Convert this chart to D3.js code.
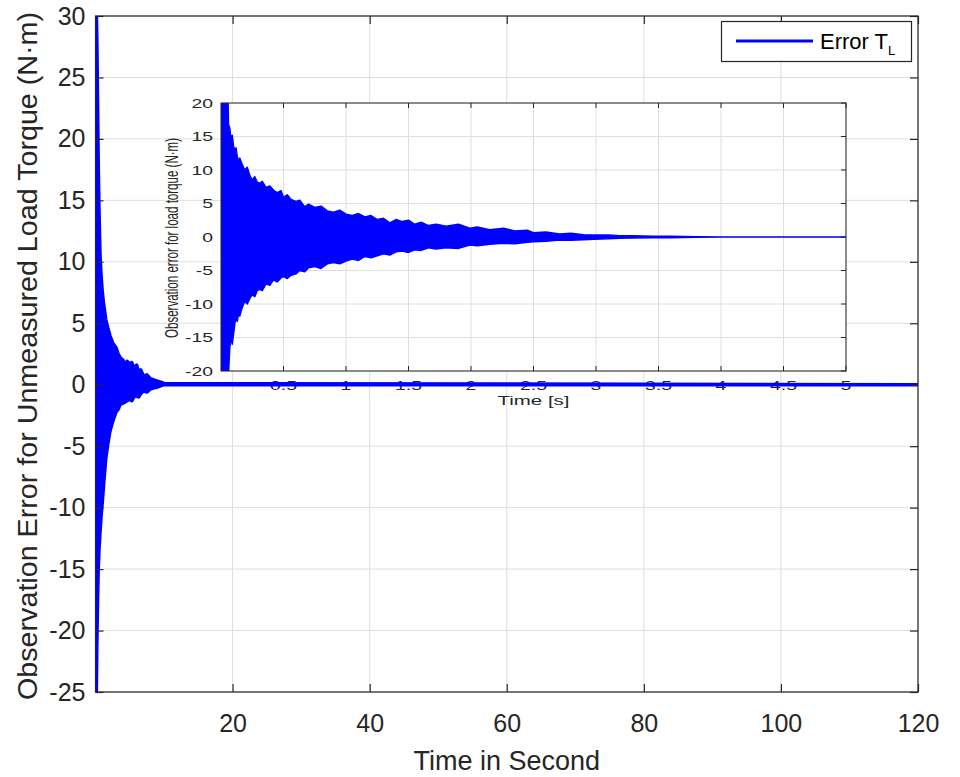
<!DOCTYPE html>
<html>
<head>
<meta charset="utf-8">
<script src="https://cdn.jsdelivr.net/npm/d3@7"></script>
<style>
  html, body { margin: 0; padding: 0; background: #fff; }
  svg { display: block; font-family: "Liberation Sans", Arial, Helvetica, sans-serif; }
</style>
</head>
<body>
<div id="chart"></div>
<script>
// main plot: envelope of the observation error (N·m)
const mainTime  = [0, 0.1, 0.2, 0.3, 0.4, 0.5, 0.66, 0.8, 1.0, 1.2, 1.5, 1.8, 2.1, 2.5, 3.0, 3.3, 3.6, 4.0, 4.3, 4.6,
                   5.0, 5.3, 5.6, 6.0, 6.3, 6.6, 7.0, 7.5, 8.0, 8.5, 9.0, 9.5, 10, 120];
const mainUpper = [31, 31, 28, 23, 18, 14.5, 10.5, 9, 7.5, 6.5, 5.3, 4.6, 4.0, 3.4, 3.0, 2.5, 2.2, 2.0, 1.6, 1.9,
                   1.7, 1.8, 1.3, 1.6, 1.0, 1.2, 0.7, 0.8, 0.5, 0.4, 0.3, 0.2, 0.1, 0];
const mainLower = [-26, -26, -21, -17.5, -15, -13.5, -12, -10.8, -9.5, -8, -6, -4.8, -3.8, -3.0, -2.2, -2.0, -1.6, -1.5, -1.4, -1.3,
                   -1.2, -1.3, -1.0, -0.9, -1.0, -0.7, -0.5, -0.6, -0.35, -0.25, -0.2, -0.1, 0, 0];

// inset: first 5 seconds
const insetTime  = [0, 0.03, 0.055, 0.06, 0.07, 0.08, 0.09, 0.1, 0.11, 0.12,
                    0.13, 0.14, 0.15, 0.17, 0.19, 0.21, 0.23, 0.25, 0.27, 0.29,
                    0.31, 0.33, 0.36, 0.39, 0.42, 0.45, 0.48, 0.5, 0.53, 0.56,
                    0.6, 0.63, 0.67, 0.7, 0.75, 0.8, 0.85, 0.9, 0.95, 1.0,
                    1.05, 1.1, 1.15, 1.2, 1.25, 1.3, 1.35, 1.4, 1.45, 1.5,
                    1.55, 1.6, 1.66, 1.72, 1.8, 1.9, 1.99, 2.05, 2.15, 2.26,
                    2.35, 2.45, 2.5, 2.6, 2.71, 2.8, 2.9, 2.98, 3.1, 3.19,
                    3.3, 3.46, 3.6, 3.8, 4.0, 5.0];
const insetUpper = [22, 22, 22, 16.8, 16.3, 14.5, 15.2, 13.6, 13.0, 13.3,
                    12.0, 11.3, 11.8, 10.8, 10.0, 10.4, 9.2, 8.5, 9.0, 8.2,
                    8.0, 8.3, 7.4, 7.6, 7.0, 6.6, 6.9, 5.9, 6.3, 5.6,
                    5.3, 5.5, 4.5, 4.9, 4.4, 4.6, 3.9, 3.7, 4.0, 3.4,
                    3.2, 3.5, 3.0, 3.2, 2.6, 2.8, 2.1, 2.6, 2.3, 2.5,
                    1.9, 2.2, 1.7, 1.9, 1.6, 1.9, 1.3, 1.5, 1.1, 1.3,
                    0.9, 1.0, 0.65, 0.75, 0.45, 0.55, 0.35, 0.3, 0.3, 0.2,
                    0.2, 0.12, 0.1, 0.05, 0, 0];
const insetLower = [-22, -22, -22, -20.5, -16.6, -15, -16, -14.5, -13, -12,
                    -12.6, -11.5, -11.8, -10.5, -9.6, -10, -9.2, -8.6, -8.9, -8.0,
                    -7.8, -8.0, -7.0, -7.2, -6.4, -6.7, -6.1, -5.9, -6.2, -5.7,
                    -5.5, -5.0, -5.2, -4.6, -4.4, -4.7, -4.0, -3.8, -4.0, -3.6,
                    -3.3, -3.5, -2.9, -3.1, -2.8, -2.5, -2.7, -2.2, -2.1, -2.3,
                    -1.9, -2.0, -1.6, -1.8, -1.6, -1.7, -1.2, -1.3, -1.1, -0.95,
                    -1.0, -0.8, -0.7, -0.65, -0.45, -0.5, -0.4, -0.35, -0.25, -0.2,
                    -0.15, -0.12, -0.1, -0.05, 0, 0];

const mainXTicks = [20, 40, 60, 80, 100, 120];
const mainYTicks = [-25, -20, -15, -10, -5, 0, 5, 10, 15, 20, 25, 30];
const insetXTicks = [0.5, 1, 1.5, 2, 2.5, 3, 3.5, 4, 4.5, 5];
const insetYTicks = [-20, -15, -10, -5, 0, 5, 10, 15, 20];

const W = 960, H = 777;
const axisColor = "#262626";
const gridColor = "#dedede";
const lineColor = "#0000ff";

const svg = d3.select("#chart").append("svg").attr("width", W).attr("height", H);

// ---- main axes
const x = d3.scaleLinear().domain([0, 120]).range([95.5, 918]);
const y = d3.scaleLinear().domain([-25, 30]).range([692, 16]);

const mainData = mainTime.map((t, i) => ({ t: t, hi: mainUpper[i], lo: mainLower[i] }));
const insetData = insetTime.map((t, i) => ({ t: t, hi: insetUpper[i], lo: insetLower[i] }));

const defs = svg.append("defs");
defs.append("clipPath").attr("id", "clipMain").append("rect")
    .attr("x", x(0)).attr("y", y(30)).attr("width", x(120) - x(0)).attr("height", y(-25) - y(30));

// grid
const gridMain = svg.append("g");
gridMain.selectAll(".gx").data(mainXTicks).enter().append("line")
    .attr("x1", d => x(d)).attr("x2", d => x(d)).attr("y1", y(30)).attr("y2", y(-25))
    .attr("stroke", gridColor).attr("stroke-width", 1);
gridMain.selectAll(".gy").data(mainYTicks).enter().append("line")
    .attr("x1", x(0)).attr("x2", x(120)).attr("y1", d => y(d)).attr("y2", d => y(d))
    .attr("stroke", gridColor).attr("stroke-width", 1);

// ---- inset axes
const ix = d3.scaleLinear().domain([0, 5]).range([221, 846]);
const iy = d3.scaleLinear().domain([-20, 20]).range([371, 103]);

defs.append("clipPath").attr("id", "clipInset").append("rect")
    .attr("x", ix(0)).attr("y", iy(20)).attr("width", ix(5) - ix(0)).attr("height", iy(-20) - iy(20));

const inset = svg.append("g");
inset.append("rect")
    .attr("x", ix(0)).attr("y", iy(20)).attr("width", ix(5) - ix(0)).attr("height", iy(-20) - iy(20))
    .attr("fill", "#fff");
inset.selectAll(".igx").data(insetXTicks).enter().append("line")
    .attr("x1", d => ix(d)).attr("x2", d => ix(d)).attr("y1", iy(20)).attr("y2", iy(-20))
    .attr("stroke", gridColor).attr("stroke-width", 1);
inset.selectAll(".igy").data(insetYTicks).enter().append("line")
    .attr("x1", ix(0)).attr("x2", ix(5)).attr("y1", d => iy(d)).attr("y2", d => iy(d))
    .attr("stroke", gridColor).attr("stroke-width", 1);

const insetArea = d3.area().x(d => ix(d.t)).y0(d => iy(d.lo)).y1(d => iy(d.hi));
inset.append("path").datum(insetData)
    .attr("clip-path", "url(#clipInset)")
    .attr("d", insetArea)
    .attr("fill", lineColor).attr("stroke", lineColor).attr("stroke-width", 1.5)
    .attr("stroke-linejoin", "round");

// inset frame + ticks (top, bottom, right)
inset.append("rect")
    .attr("x", ix(0)).attr("y", iy(20)).attr("width", ix(5) - ix(0)).attr("height", iy(-20) - iy(20))
    .attr("fill", "none").attr("stroke", axisColor).attr("stroke-width", 1);
inset.selectAll(".itb").data(insetXTicks).enter().append("line")
    .attr("x1", d => ix(d)).attr("x2", d => ix(d)).attr("y1", iy(-20)).attr("y2", iy(-20) - 5)
    .attr("stroke", axisColor);
inset.selectAll(".itt").data(insetXTicks).enter().append("line")
    .attr("x1", d => ix(d)).attr("x2", d => ix(d)).attr("y1", iy(20)).attr("y2", iy(20) + 5)
    .attr("stroke", axisColor);
inset.selectAll(".itr").data(insetYTicks).enter().append("line")
    .attr("x1", ix(5)).attr("x2", ix(5) - 5).attr("y1", d => iy(d)).attr("y2", d => iy(d))
    .attr("stroke", axisColor);

// inset labels (the inset looks horizontally stretched)
inset.selectAll(".ixl").data(insetXTicks).enter().append("text")
    .attr("transform", d => `translate(${ix(d)},${iy(-20) + 19}) scale(1.55,1)`)
    .attr("text-anchor", "middle").attr("font-size", 12.5).attr("fill", axisColor)
    .text(d => d);
inset.selectAll(".iyl").data(insetYTicks).enter().append("text")
    .attr("transform", d => `translate(${ix(0) - 8},${iy(d) + 4.5}) scale(1.55,1)`)
    .attr("text-anchor", "end").attr("font-size", 12.5).attr("fill", axisColor)
    .text(d => d);
inset.append("text")
    .attr("x", (ix(0) + ix(5)) / 2 - 36).attr("y", iy(-20) + 34)
    .attr("font-size", 12.5).attr("fill", axisColor)
    .attr("textLength", 72).attr("lengthAdjust", "spacingAndGlyphs")
    .text("Time [s]");
inset.append("text")
    .attr("transform", `translate(178,${(iy(20) + iy(-20)) / 2 + 1}) rotate(-90) scale(1,1.6)`)
    .attr("text-anchor", "middle").attr("font-size", 11.5).attr("fill", axisColor)
    .attr("textLength", 200).attr("lengthAdjust", "spacingAndGlyphs")
    .text("Observation error for load torque  (N·m)");

// ---- main line (drawn as the band of the dense oscillation)
const mainArea = d3.area().x(d => x(d.t)).y0(d => y(d.lo)).y1(d => y(d.hi));
svg.append("path").datum(mainData)
    .attr("clip-path", "url(#clipMain)")
    .attr("d", mainArea)
    .attr("fill", lineColor).attr("stroke", lineColor).attr("stroke-width", 3.5)
    .attr("stroke-linejoin", "round");

// ---- main frame, ticks, labels
svg.append("rect")
    .attr("x", x(0)).attr("y", y(30)).attr("width", x(120) - x(0)).attr("height", y(-25) - y(30))
    .attr("fill", "none").attr("stroke", axisColor).attr("stroke-width", 1.2);

const xAxis = svg.append("g").attr("transform", `translate(0,${y(-25)})`)
    .call(d3.axisBottom(x).tickValues(mainXTicks).tickSizeInner(-8).tickSizeOuter(0).tickPadding(22)
        .tickFormat(d => String(d)));
const xAxisTop = svg.append("g").attr("transform", `translate(0,${y(30)})`)
    .call(d3.axisTop(x).tickValues(mainXTicks).tickSizeInner(-8).tickSizeOuter(0).tickFormat(""));
const yAxis = svg.append("g").attr("transform", `translate(${x(0)},0)`)
    .call(d3.axisLeft(y).tickValues(mainYTicks).tickSizeInner(-8).tickSizeOuter(0).tickPadding(10)
        .tickFormat(d => String(d)));
const yAxisRight = svg.append("g").attr("transform", `translate(${x(120)},0)`)
    .call(d3.axisRight(y).tickValues(mainYTicks).tickSizeInner(-8).tickSizeOuter(0).tickFormat(""));

[xAxis, xAxisTop, yAxis, yAxisRight].forEach(g => {
    g.select(".domain").remove();
    g.selectAll(".tick line").attr("stroke", axisColor).attr("stroke-width", 1.2);
    g.selectAll(".tick text").attr("fill", axisColor).attr("font-size", 25)
        .attr("font-family", "Liberation Sans, Arial, sans-serif");
});

svg.append("text")
    .attr("x", (x(0) + x(120)) / 2).attr("y", 770)
    .attr("text-anchor", "middle").attr("font-size", 27).attr("fill", axisColor)
    .text("Time in Second");
svg.append("text")
    .attr("transform", `translate(37,356) rotate(-90)`)
    .attr("text-anchor", "middle").attr("font-size", 27).attr("fill", axisColor)
    .attr("textLength", 688).attr("lengthAdjust", "spacingAndGlyphs")
    .text("Observation Error for Unmeasured Load Torque  (N·m)");

// ---- legend
const legend = svg.append("g");
legend.append("rect").attr("x", 721.5).attr("y", 21.5).attr("width", 190).attr("height", 40)
    .attr("fill", "#fff").attr("stroke", axisColor).attr("stroke-width", 1.2);
legend.append("line").attr("x1", 736).attr("x2", 813).attr("y1", 41).attr("y2", 41)
    .attr("stroke", lineColor).attr("stroke-width", 3);
const lt = legend.append("text").attr("x", 820).attr("y", 49).attr("font-size", 22).attr("fill", "#000");
lt.append("tspan").text("Error T");
lt.append("tspan").attr("font-size", 13).attr("dy", 6).text("L");
</script>
</body>
</html>
